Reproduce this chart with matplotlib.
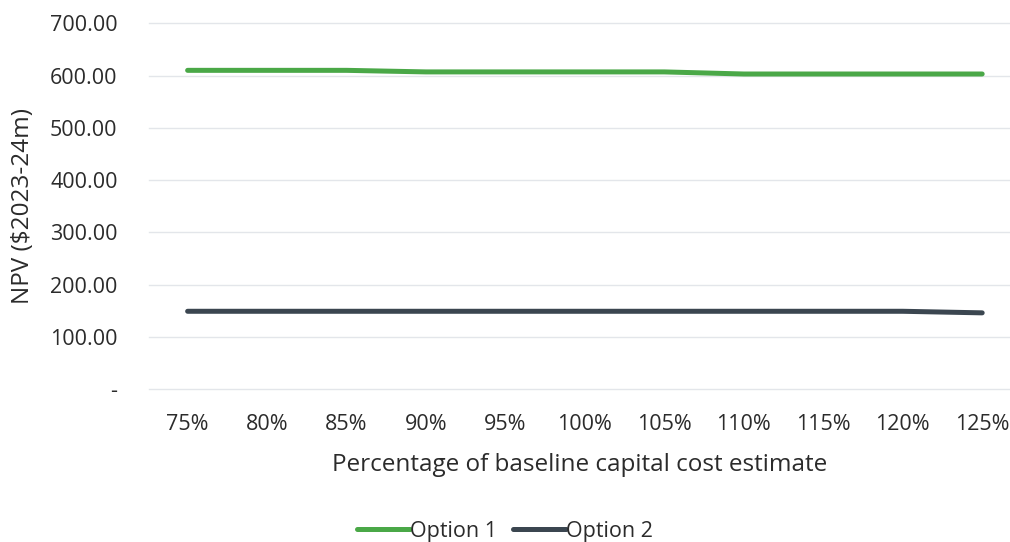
import matplotlib
matplotlib.use("Agg")
import matplotlib.pyplot as plt
from matplotlib.ticker import FuncFormatter

# NPV sensitivity to capital cost
pct_labels = ["75%", "80%", "85%", "90%", "95%", "100%", "105%", "110%", "115%", "120%", "125%"]
option1 = [610, 610, 610, 607, 607, 607, 607, 603, 603, 603, 603]
option2 = [149, 149, 149, 149, 149, 149, 149, 149, 149, 149, 146]
yticks = [0, 100, 200, 300, 400, 500, 600, 700]

plt.rcParams['font.family'] = ['Open Sans', 'DejaVu Sans']
txt_col = '#2b2b2b'

fig = plt.figure(figsize=(10.10, 5.42), dpi=100)
ax = fig.add_axes([0.148, 0.282, 0.852, 0.675])

x = range(len(pct_labels))
ax.plot(x, option1, color='#4aa847', lw=3.6, solid_capstyle='round', label='Option 1')
ax.plot(x, option2, color='#3b4650', lw=3.6, solid_capstyle='round', label='Option 2')

ax.set_ylim(0, 700)
ax.set_yticks(yticks)
ax.yaxis.set_major_formatter(FuncFormatter(lambda v, p: '-' if v == 0 else f'{v:.2f}'))
ax.set_xlim(-0.48, 10.35)
ax.set_xticks(list(x))
ax.set_xticklabels(pct_labels)

ax.grid(axis='y', color='#e3e6ea', lw=1, clip_on=False)
ax.set_axisbelow(True)
for s in ax.spines.values():
    s.set_visible(False)
ax.tick_params(length=0, labelsize=15.5, colors=txt_col)
ax.tick_params(axis='x', pad=18)
ax.tick_params(axis='y', pad=23)

ax.set_ylabel('NPV ($2023-24m)', fontsize=17.5, color=txt_col, labelpad=11)
ax.set_xlabel('Percentage of baseline capital cost estimate', fontsize=17.5, color=txt_col, labelpad=13)

fig.legend(loc='lower center', bbox_to_anchor=(0.5, -0.035), ncol=2, frameon=False,
           fontsize=15.5, handlelength=2.45, handletextpad=0.0, columnspacing=0.75,
           labelcolor=txt_col)

fig.savefig('out.png', dpi=100)
